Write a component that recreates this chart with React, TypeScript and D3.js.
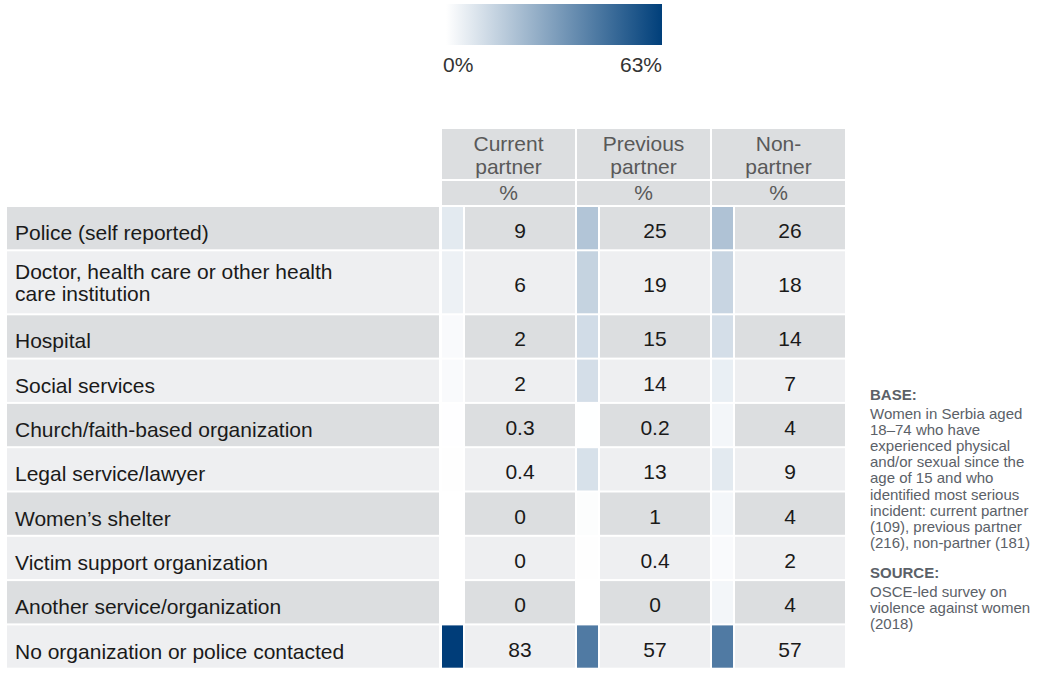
import React, { useEffect, useRef } from "react";
import * as d3 from "d3";

const categories = [
  "Police (self reported)",
  "Doctor, health care or other health care institution",
  "Hospital",
  "Social services",
  "Church/faith-based organization",
  "Legal service/lawyer",
  "Women’s shelter",
  "Victim support organization",
  "Another service/organization",
  "No organization or police contacted",
];
const columns = ["Current partner", "Previous partner", "Non-partner"];
const headerLines = [["Current", "partner"], ["Previous", "partner"], ["Non-", "partner"]];
const currentPartner = [9, 6, 2, 2, 0.3, 0.4, 0, 0, 0, 83];
const previousPartner = [25, 19, 15, 14, 0.2, 13, 1, 0.4, 0, 57];
const nonPartner = [26, 18, 14, 7, 4, 9, 4, 2, 4, 57];
const legendTicks = ["0%", "63%"];
const baseLines = [
  "Women in Serbia aged",
  "18–74 who have",
  "experienced physical",
  "and/or sexual since the",
  "age of 15 and who",
  "identified most serious",
  "incident: current partner",
  "(109), previous partner",
  "(216), non-partner (181)",
];
const sourceLines = ["OSCE-led survey on", "violence against women", "(2018)"];

const FONT = "'Liberation Sans', Arial, Helvetica, sans-serif";
const FS = 21;

export default function App() {
  const ref = useRef<SVGSVGElement | null>(null);

  useEffect(() => {
    const svg = d3.select(ref.current);
    svg.selectAll("*").remove();
    const W = 1043, H = 697;
    svg.attr("width", W).attr("height", H);

    const series = [currentPartner, previousPartner, nonPartner];
    const color = d3.scaleLinear<string>().domain([0, 83]).range(["#ffffff", "#003d79"]).clamp(true);

    // legend
    const defs = svg.append("defs");
    const grad = defs.append("linearGradient").attr("id", "lg").attr("x1", "0%").attr("x2", "100%");
    grad.append("stop").attr("offset", "0%").attr("stop-color", "#ffffff");
    grad.append("stop").attr("offset", "100%").attr("stop-color", "#003f7a");
    const lx = d3.scaleLinear().domain([0, 1]).range([446, 662]);
    svg.append("rect").attr("x", lx(0)).attr("y", 4).attr("width", lx(1) - lx(0)).attr("height", 41).attr("fill", "url(#lg)");
    legendTicks.forEach((t, i) => {
      svg.append("text").attr("x", lx(i)).attr("y", 72)
        .attr("text-anchor", i === 0 ? "start" : "end")
        .attr("dx", i === 0 ? -3 : 0)
        .attr("font-family", FONT).attr("font-size", FS).attr("fill", "#333")
        .text(t);
    });

    // measurement for wrapping labels
    const canvas = document.createElement("canvas");
    const ctx = canvas.getContext("2d")!;
    ctx.font = `${FS}px 'Liberation Sans', Arial`;
    const wrap = (s: string, maxW: number) => {
      const words = s.split(" ");
      const lines: string[] = [];
      let cur = "";
      words.forEach((w) => {
        const t = cur ? cur + " " + w : w;
        if (ctx.measureText(t).width > maxW && cur) { lines.push(cur); cur = w; } else cur = t;
      });
      if (cur) lines.push(cur);
      return lines;
    };
    const labelLines = categories.map((c) => wrap(c, 345));

    // row geometry
    const top = 207, gap = 2, single = 42.3, lineH = 22;
    const heights = labelLines.map((l) => single + (l.length - 1) * 19.7);
    const ys: number[] = [];
    let acc = top;
    heights.forEach((h) => { ys.push(acc); acc += h + gap; });

    const x = d3.scaleBand<string>().domain(columns).range([442, 845]).paddingInner(2 / 134);
    const stripW = 21, stripGap = 2;
    const labelX0 = 7, labelX1 = 439;

    // headers
    columns.forEach((c, j) => {
      const x0 = x(c)!, bw = x.bandwidth();
      svg.append("rect").attr("x", x0).attr("y", 129).attr("width", bw).attr("height", 50).attr("fill", "#dcdee0");
      svg.append("rect").attr("x", x0).attr("y", 181).attr("width", bw).attr("height", 24).attr("fill", "#dcdee0");
      headerLines[j].forEach((ln, k) => {
        svg.append("text").attr("x", x0 + bw / 2).attr("y", 151 + k * 23).attr("text-anchor", "middle")
          .attr("font-family", FONT).attr("font-size", FS).attr("fill", "#595959").text(ln);
      });
      svg.append("text").attr("x", x0 + bw / 2).attr("y", 200).attr("text-anchor", "middle")
        .attr("font-family", FONT).attr("font-size", FS).attr("fill", "#595959").text("%");
    });

    // rows
    categories.forEach((cat, i) => {
      const y0 = ys[i], h = heights[i];
      const bg = i % 2 === 0 ? "#dcdee0" : "#eeeff1";
      svg.append("rect").attr("x", labelX0).attr("y", y0).attr("width", labelX1 - labelX0).attr("height", h).attr("fill", bg);
      const lines = labelLines[i];
      const cy = y0 + h / 2;
      const off = 12 - (lines.length - 1) * 4;
      lines.forEach((ln, k) => {
        svg.append("text").attr("x", 15).attr("y", cy + off + (k - (lines.length - 1) / 2) * lineH)
          .attr("font-family", FONT).attr("font-size", FS).attr("fill", "#1a1a1a").text(ln);
      });
      columns.forEach((c, j) => {
        const x0 = x(c)!, bw = x.bandwidth();
        const v = series[j][i];
        svg.append("rect").attr("x", x0).attr("y", y0).attr("width", stripW).attr("height", h).attr("fill", color(v));
        const vx = x0 + stripW + stripGap;
        const vw = bw - stripW - stripGap;
        svg.append("rect").attr("x", vx).attr("y", y0).attr("width", vw).attr("height", h).attr("fill", bg);
        svg.append("text").attr("x", vx + vw / 2).attr("y", cy + 10).attr("text-anchor", "middle")
          .attr("font-family", FONT).attr("font-size", FS).attr("fill", "#1a1a1a").text(String(v));
      });
    });

    // side notes
    const nx = 870;
    const lh = 16.2;
    const note = svg.append("g").attr("font-family", FONT).attr("font-size", 15).attr("fill", "#5b6168");
    note.append("text").attr("x", nx).attr("y", 400).attr("font-weight", "bold").text("BASE:");
    baseLines.forEach((t, i) => note.append("text").attr("x", nx).attr("y", 418.5 + i * lh).text(t));
    note.append("text").attr("x", nx).attr("y", 578).attr("font-weight", "bold").text("SOURCE:");
    sourceLines.forEach((t, i) => note.append("text").attr("x", nx).attr("y", 597 + i * lh).text(t));
  }, []);

  return (
    <svg ref={ref} style={{ position: "absolute", left: 0, top: 0, display: "block" }} />
  );
}
